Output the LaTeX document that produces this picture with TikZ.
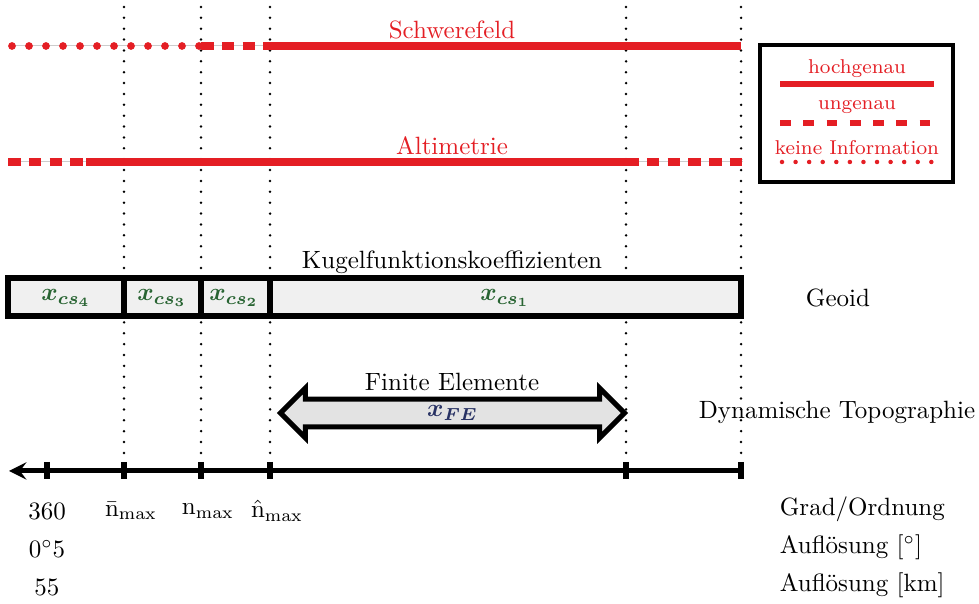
\documentclass[tikz,border=0pt]{standalone}
\usepackage{amsmath,amssymb,bm}
\usepackage{tikz}
\usetikzlibrary{shapes.arrows,arrows,calc,positioning}
\definecolor{rot}{RGB}{228,30,36}
\definecolor{gruen}{RGB}{40,100,50}
\definecolor{blau}{RGB}{40,50,100}
\tikzset{
	hoch/.style={rot, line width=3.1pt},
	ungenau/.style={rot, line width=3.1pt, dash pattern=on 5pt off 3.3pt},
	keineinfo/.style={rot, line width=3.1pt, line cap=round, dash pattern=on 0pt off 6.8pt},
	hilfslinie/.style={gray!40, line width=0.4pt},
	raster/.style={line width=1.1pt, line cap=round, dash pattern=on 0pt off 4.35pt},
	feld/.style={line width=2.4pt, fill=gray!12},
	strich/.style={line width=2.4pt},
	achse/.style={line width=2pt},
	fepfeil/.style={double arrow, draw, line width=2pt, fill=gray!22, inner xsep=0pt, inner ysep=1.6pt,
		minimum height=137.6pt, double arrow head extend=4.4pt},
}
\begin{document}
\begin{tikzpicture}[x=0.4pt,y=-0.4pt]
				\useasboundingbox (0,0) rectangle (979,604);
				% Raster
				\foreach \x/\n in {124/a,201/b,270/c,626/d,741/e}{
					\coordinate (o\n) at (\x,7);
					\coordinate (u\n) at (\x,463);
					\draw[raster] (o\n)--(u\n);
				}
				% Schwerefeld
				\coordinate (s0) at (12,46);
				\coordinate (s1) at (201,46);
				\coordinate (s2) at (270,46);
				\coordinate (s3) at (741,46);
				\draw[hilfslinie] (s0)--(s2);
				\draw[keineinfo] (s0)--(s1);
				\draw[ungenau] (s1)--(s2);
				\draw[hoch] (s2)--(s3);
				\node[rot] (schwere) at (452,30) {Schwerefeld};
				% Altimetrie
				\coordinate (a0) at (8,162);
				\coordinate (a1) at (86,162);
				\coordinate (a2) at (626,162);
				\coordinate (a3) at (743,162);
				\draw[hilfslinie] (a0)--(a3);
				\draw[ungenau] (a0)--(a1);
				\draw[hoch] (a1)--(a2);
				\draw[ungenau] (a2)--(a3);
				\node[rot] (alti) at (452,146) {Altimetrie};
				% Legende
				\draw[line width=1.6pt] (760,45) rectangle (953,182);
				\node[rot, font=\footnotesize] (l1) at (857,69) {hochgenau};
				\node[rot, font=\footnotesize] (l2) at (857,107) {ungenau};
				\node[rot, font=\footnotesize] (l3) at (857,148) {keine Information};
				\draw[rot, line width=2.3pt] (780,84)--(934,84);
				\draw[rot, line width=2.5pt, dash pattern=on 4.3pt off 5pt] (780,123)--(934,123);
				\draw[rot, line width=1.8pt, line cap=round, dash pattern=on 0pt off 5.43pt] (782,162)--(934,162);
				% Geoid
				\node (kugel) at (452,262) {Kugelfunktionskoeffizienten};
				\draw[feld] (8,278) rectangle (741,316);
				\draw[strich] (124,278)--(124,316);
				\draw[strich] (201,278)--(201,316);
				\draw[strich] (270,278)--(270,316);
				\node[gruen] (cs4) at (66,298) {$\bm{x_{cs_4}}$};
				\node[gruen] (cs3) at (162,298) {$\bm{x_{cs_3}}$};
				\node[gruen] (cs2) at (234,298) {$\bm{x_{cs_2}}$};
				\node[gruen] (cs1) at (505,298) {$\bm{x_{cs_1}}$};
				\node (geoid) at (838,298) {Geoid};
				% Finite Elemente
				\node[fepfeil] (fe) at (452.5,413) {\textcolor{blau}{$\bm{x_{FE}}$}};
				\node (fetext) at (452,382) {Finite Elemente};
				\node[anchor=east] (dyntopo) at (984,412) {Dynamische Topographie};
				% Achse
				\coordinate (x0) at (742,471);
				\coordinate (x1) at (9,471);
				\draw[achse,-stealth] (x0)--(x1);
				\foreach \x in {47,124,201,270,626,741}
					\draw[strich] (\x,462)--(\x,479);
				\node (g1) at (47,511) {360};
				\node (g2) at (131,511) {$\bar{\mathrm{n}}_{\max}$};
				\node (g3) at (208,511) {$\mathrm{n}_{\max}$};
				\node (g4) at (277,511) {$\hat{\mathrm{n}}_{\max}$};
				\node (r1) at (47,549) {$0^{\circ}5$};
				\node (k1) at (47,587) {55};
				\node[anchor=west] (grad) at (771,509) {Grad/Ordnung};
				\node[anchor=west] (aufl1) at (771,547) {Aufl\"osung [$^{\circ}$]};
				\node[anchor=west] (aufl2) at (771,585) {Aufl\"osung [km]};
			\end{tikzpicture}
\end{document}
